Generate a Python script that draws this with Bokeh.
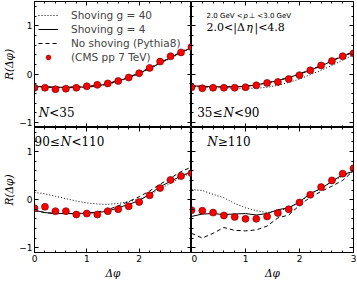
from bokeh.plotting import figure
from bokeh.layouts import gridplot
from bokeh.models import Range1d, LinearAxis, FixedTicker, Label, Legend
from bokeh.embed import file_html
from bokeh.resources import INLINE

# ---------------- data ----------------
dphi = [0.0, 0.2, 0.4, 0.6, 0.8, 1.0, 1.2, 1.4, 1.6, 1.8, 2.0, 2.2, 2.4, 2.6, 2.8, 3.0]

# N < 35
cms_1 = [-0.28, -0.28, -0.31, -0.30, -0.28, -0.25, -0.22, -0.19, -0.14, -0.07, 0.02, 0.13, 0.26, 0.37, 0.45, 0.56]
g40_1 = [-0.26, -0.27, -0.28, -0.28, -0.28, -0.27, -0.25, -0.21, -0.15, -0.08, 0.01, 0.11, 0.22, 0.33, 0.44, 0.54]
g4_1 = [-0.25, -0.26, -0.27, -0.27, -0.27, -0.26, -0.24, -0.20, -0.14, -0.07, 0.02, 0.12, 0.23, 0.34, 0.45, 0.55]
py_1 = [-0.26, -0.26, -0.27, -0.27, -0.26, -0.25, -0.23, -0.19, -0.13, -0.06, 0.03, 0.13, 0.24, 0.35, 0.46, 0.56]

# 35 <= N < 90
cms_2 = [-0.27, -0.29, -0.28, -0.28, -0.28, -0.27, -0.23, -0.18, -0.16, -0.10, -0.02, 0.08, 0.18, 0.27, 0.37, 0.43]
g40_2 = [-0.25, -0.27, -0.28, -0.28, -0.29, -0.29, -0.29, -0.27, -0.23, -0.17, -0.10, -0.01, 0.08, 0.18, 0.29, 0.40]
g4_2 = [-0.24, -0.25, -0.26, -0.26, -0.26, -0.25, -0.22, -0.18, -0.13, -0.07, 0.00, 0.08, 0.17, 0.27, 0.37, 0.45]
py_2 = [-0.24, -0.25, -0.26, -0.26, -0.26, -0.25, -0.22, -0.18, -0.13, -0.07, 0.01, 0.09, 0.18, 0.28, 0.38, 0.46]

# 90 <= N < 110
cms_3 = [-0.18, -0.15, -0.24, -0.24, -0.31, -0.29, -0.31, -0.24, -0.20, -0.14, -0.05, 0.09, 0.24, 0.41, 0.49, 0.55]
g40_3 = [0.15, 0.12, 0.07, 0.02, -0.03, -0.07, -0.09, -0.10, -0.08, -0.04, 0.01, 0.10, 0.22, 0.34, 0.46, 0.56]
g4_3 = [-0.22, -0.27, -0.29, -0.29, -0.29, -0.28, -0.27, -0.24, -0.17, -0.10, -0.02, 0.11, 0.27, 0.38, 0.49, 0.58]
py_3 = [-0.23, -0.27, -0.29, -0.29, -0.29, -0.28, -0.26, -0.21, -0.13, -0.04, 0.06, 0.18, 0.32, 0.45, 0.58, 0.68]

# N >= 110
cms_4 = [-0.22, -0.23, -0.27, -0.33, -0.36, -0.40, -0.40, -0.35, -0.28, -0.20, -0.06, 0.10, 0.26, 0.40, 0.54, 0.65]
g40_4 = [0.21, 0.19, 0.11, 0.04, -0.08, -0.17, -0.23, -0.27, -0.23, -0.18, -0.05, 0.11, 0.23, 0.37, 0.49, 0.58]
g4_4 = [-0.35, -0.30, -0.29, -0.31, -0.30, -0.29, -0.32, -0.29, -0.21, -0.17, -0.05, 0.13, 0.23, 0.38, 0.52, 0.59]
py_4 = [-0.70, -0.80, -0.70, -0.58, -0.64, -0.65, -0.63, -0.55, -0.38, -0.32, -0.12, 0.05, 0.17, 0.28, 0.40, 0.60]

legend_labels = ["Shoving g = 40", "Shoving g = 4", "No shoving (Pythia8)", "(CMS pp 7 TeV)"]
y_major = [-1, 0, 1]
y_minor = [-1.0, -0.8, -0.6, -0.4, -0.2, 0.0, 0.2, 0.4, 0.6, 0.8, 1.0, 1.2, 1.4]
x_major_left = [0, 1, 2]
x_major_right = [0, 1, 2, 3]
x_minor = [0.2, 0.4, 0.6, 0.8, 1.0, 1.2, 1.4, 1.6, 1.8, 2.0, 2.2, 2.4, 2.6, 2.8]

# ---------------- layout / style ----------------
LEFT_W = 191          # left column figure width (border + frame)
FW = 162              # right column frame width
TOP_FH = 126          # top row frame height
BOT_H = 154           # bottom row figure height (frame + border)
XR, YR = (0, 3), (-1.1, 1.5)

SERIF_W = {'.': 0.318, ' ': 0.318, '<': 0.838, '≤': 0.838, '≥': 0.838, '|': 0.337,
           'Δ': 0.75, 'N': 0.80, 'η': 0.65}
SANS_W = {'.': 0.318, ' ': 0.318, 'G': 0.775, 'e': 0.615, 'V': 0.684, '<': 0.838,
          'p': 0.635, '⊥': 0.838}


def text_w(s, size, serif):
    tbl = SERIF_W if serif else SANS_W
    return sum(0.636 if c.isdigit() else tbl.get(c, 0.6) for c in s) * size


def style_axis(ax):
    ax.major_tick_in = 4
    ax.major_tick_out = 0
    ax.minor_tick_in = 2
    ax.minor_tick_out = 0
    ax.axis_line_color = "black"
    ax.major_tick_line_color = "black"
    ax.minor_tick_line_color = "black"
    ax.axis_line_width = 1
    ax.major_label_text_font = "DejaVu Sans"
    ax.major_label_text_font_size = "9px"
    ax.major_label_text_color = "black"
    ax.major_label_standoff = 2
    ax.axis_label_standoff = 1
    ax.axis_label_text_font = "DejaVu Serif"
    ax.axis_label_text_font_style = "italic"
    ax.axis_label_text_font_size = "10.5px"
    ax.axis_label_text_color = "black"


def make_panel(col, row, xmajor):
    left = col == 0
    bottom = row == 1
    kw = {}
    if left:
        kw["width"] = LEFT_W
    else:
        kw["frame_width"] = FW
    if bottom:
        kw["height"] = BOT_H
    else:
        kw["frame_height"] = TOP_FH
    p = figure(x_range=Range1d(*XR), y_range=Range1d(*YR),
               output_backend="svg", toolbar_location=None,
               x_axis_location=None, y_axis_location=None, min_border=0, **kw)
    p.min_border_top = 1 if row == 0 else 0
    p.min_border_right = 3 if col == 1 else 0
    p.outline_line_color = "black"
    p.background_fill_color = "white"
    p.border_fill_color = "white"
    p.xgrid.visible = False
    p.ygrid.visible = False

    if left:
        yl = LinearAxis(ticker=FixedTicker(ticks=y_major, minor_ticks=y_minor), axis_label="R(Δφ)")
    else:
        yl = LinearAxis(ticker=FixedTicker(ticks=y_major, minor_ticks=y_minor), fixed_location=XR[0])
        yl.major_label_overrides = {t: "" for t in y_major}
    style_axis(yl)
    p.add_layout(yl, "left")

    yr = LinearAxis(ticker=FixedTicker(ticks=y_major, minor_ticks=y_minor), fixed_location=XR[1])
    style_axis(yr)
    yr.major_label_overrides = {t: "" for t in y_major}
    p.add_layout(yr, "right")

    if bottom:
        xb = LinearAxis(ticker=FixedTicker(ticks=xmajor, minor_ticks=x_minor), axis_label="Δφ")
        style_axis(xb)
        xb.major_label_standoff = 2
        xb.axis_label_standoff = 2
    else:
        xb = LinearAxis(ticker=FixedTicker(ticks=xmajor, minor_ticks=x_minor), fixed_location=YR[0])
        style_axis(xb)
        xb.major_label_overrides = {t: "" for t in xmajor}
    p.add_layout(xb, "below")

    xt = LinearAxis(ticker=FixedTicker(ticks=x_major_right, minor_ticks=x_minor), fixed_location=YR[1])
    style_axis(xt)
    xt.major_label_overrides = {t: "" for t in x_major_right}
    p.add_layout(xt, "above")
    return p


def draw(p, cms, g40, g4, py):
    r40 = p.line(dphi, g40, line_color="black", line_width=1, line_dash="1 2")
    r4 = p.line(dphi, g4, line_color="black", line_width=1)
    rpy = p.line(dphi, py, line_color="black", line_width=1, line_dash="4 3")
    rc = p.scatter(dphi, cms, size=7, fill_color="#ff0000", line_color="#5a0000", line_width=0.6)
    return [r40, r4, rpy, rc]


def add_text(p, x, y, segs, size, serif=True):
    off = 0.0
    for s, ital in segs:
        p.add_layout(Label(x=x, y=y, x_offset=off, text=s, text_baseline="middle", text_align="left",
                           text_font="DejaVu Serif" if serif else "DejaVu Sans",
                           text_font_style="italic" if ital else "normal",
                           text_font_size=f"{size}px", text_color="black"))
        off += text_w(s, size, serif) + 1.0


p1 = make_panel(0, 0, x_major_left)
p2 = make_panel(1, 0, x_major_right)
p3 = make_panel(0, 1, x_major_left)
p4 = make_panel(1, 1, x_major_right)

rs = draw(p1, cms_1, g40_1, g4_1, py_1)
draw(p2, cms_2, g40_2, g4_2, py_2)
draw(p3, cms_3, g40_3, g4_3, py_3)
draw(p4, cms_4, g40_4, g4_4, py_4)

legend = Legend(items=[(lab, [r]) for lab, r in zip(legend_labels, rs)],
                location=(4, 64), orientation="vertical",
                label_text_font="DejaVu Sans", label_text_font_size="10.5px",
                label_height=12, glyph_height=12, glyph_width=20, label_standoff=13,
                spacing=2, padding=0, margin=0,
                border_line_color=None, background_fill_alpha=0)
p1.add_layout(legend)

add_text(p1, 0.08, -0.80, [("N", True), ("<35", False)], 12)
add_text(p2, 0.105, -0.81, [("35≤", False), ("N", True), ("<90", False)], 12)
add_text(p3, 0.0, 1.20, [("90≤", False), ("N", True), ("<110", False)], 12)
add_text(p4, 0.29, 1.20, [("N", True), ("≥110", False)], 12)
add_text(p2, 0.28, 1.21, [("2.0 GeV <", False), ("p", True), ("⊥ <3.0 GeV", False)], 7, serif=False)
add_text(p2, 0.28, 0.97, [("2.0<|Δ", False), ("η", True), ("|<4.8", False)], 11)

grid = gridplot([[p1, p2], [p3, p4]], toolbar_location=None)

open("out.html", "w").write(file_html(grid, INLINE))
